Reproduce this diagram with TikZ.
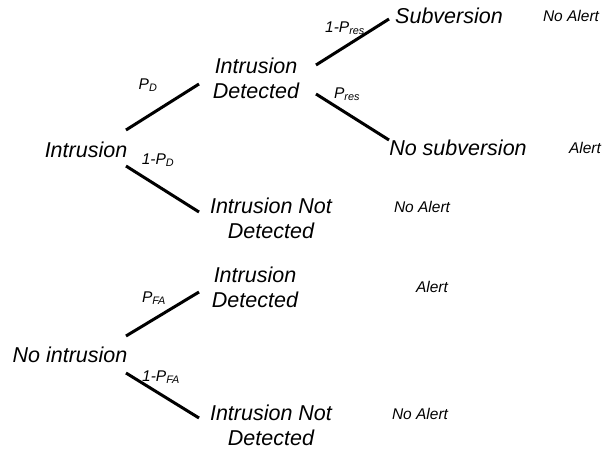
\documentclass[tikz,border=0pt]{standalone}
\usepackage{fontspec}
\setmainfont{Liberation Sans}
\tikzset{
    % state texts and the small alert marks
    state/.style={inner sep=0pt,align=center,font=\fontsize{21.5}{25}\selectfont\itshape},
    alarm/.style={inner sep=0pt,font=\fontsize{15.5}{18}\selectfont\itshape},
    prob/.style={inner sep=0pt,font=\fontsize{15.5}{18}\selectfont\itshape},
    branch/.style={line width=3pt}
}

\begin{document}
\begin{tikzpicture}[x=1pt,y=-1pt]
    \useasboundingbox (0,0) rectangle (605,450);
    % upper tree
    \node[state] (int) at (86,150) {Intrusion};
    \node[state] (intdet) at (256,78) {Intrusion\\Detected};
    \node[state] (sub) at (449,16) {Subversion};
    \node[state] (nosub) at (458,148) {No subversion};
    \node[state] (intnd) at (271,218) {Intrusion Not\\Detected};
    \node[alarm] (na1) at (571,16) {No Alert};
    \node[alarm] (al1) at (585,148) {Alert};
    \node[alarm] (na2) at (422,207) {No Alert};
    \draw[branch] ([shift={(40pt,20pt)}]int.center) -- ([shift={(-57pt,-6pt)}]intdet.center);
    \draw[branch] ([shift={(40pt,-16pt)}]int.center) -- ([shift={(-72pt,6pt)}]intnd.center);
    \draw[branch] ([shift={(60pt,13pt)}]intdet.center) -- ([shift={(-60pt,-3pt)}]sub.center);
    \draw[branch] ([shift={(60pt,-16pt)}]intdet.center) -- ([shift={(-69pt,8pt)}]nosub.center);
    \node[prob] (pd) at (148,85) {P\textsubscript{D}};
    \node[prob] (npd) at (158,160) {1-P\textsubscript{D}};
    \node[prob] (npres) at (345,28) {1-P\textsubscript{res}};
    \node[prob] (pres) at (347,94) {P\textsubscript{res}};
    % lower tree
    \node[state] (noint) at (70,355) {No intrusion};
    \node[state] (fadet) at (255,287) {Intrusion\\Detected};
    \node[state] (fand) at (271,425) {Intrusion Not\\Detected};
    \node[alarm] (al2) at (432,287) {Alert};
    \node[alarm] (na3) at (420,414) {No Alert};
    \draw[branch] ([shift={(56pt,19pt)}]noint.center) -- ([shift={(-56pt,-5pt)}]fadet.center);
    \draw[branch] ([shift={(56pt,-18pt)}]noint.center) -- ([shift={(-72pt,7pt)}]fand.center);
    \node[prob] (pfa) at (154,298) {P\textsubscript{FA}};
    \node[prob] (npfa) at (161,377) {1-P\textsubscript{FA}};
\end{tikzpicture}
\end{document}
